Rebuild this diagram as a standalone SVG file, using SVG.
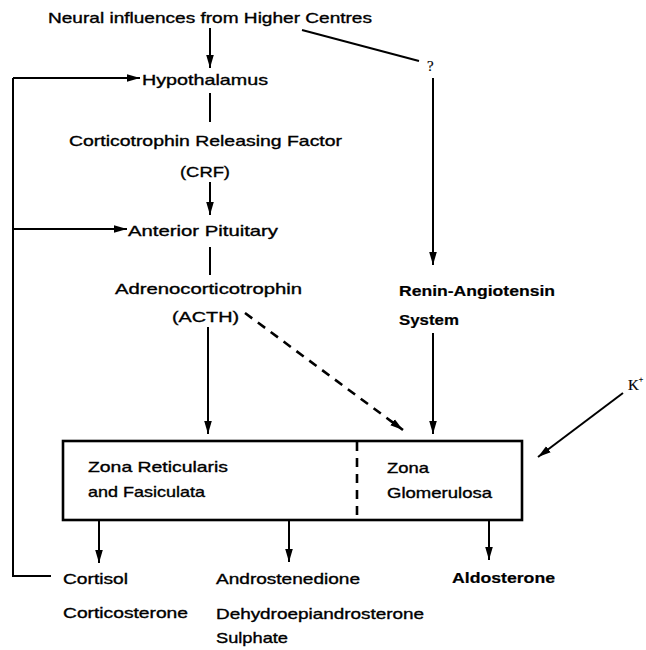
<svg xmlns="http://www.w3.org/2000/svg" width="646" height="650" viewBox="0 0 646 650">
<defs>
<marker id="ah" markerUnits="userSpaceOnUse" markerWidth="14" markerHeight="10" viewBox="0 0 14 10" refX="13" refY="5" orient="auto">
<path d="M0,1.2 L13,5 L0,8.8 Z" fill="#000"/>
</marker>
</defs>
<style>
text{font-family:"Liberation Sans",Arial,sans-serif;font-size:15px;fill:#000;stroke:#000;stroke-width:0.35}
.b{font-weight:bold;stroke-width:0.2}
.serif{font-family:"Liberation Serif","Times New Roman",serif;stroke-width:0.2}
.c{fill:none;stroke:#000;stroke-width:2}
.arr{marker-end:url(#ah)}
.dash{stroke-dasharray:9 7;stroke-width:2.6}
.box{fill:none;stroke:#000;stroke-width:2.6}
</style>
<rect width="646" height="650" fill="#fff"/>
<g id="connectors">
<line class="c arr" x1="210" y1="28" x2="210" y2="68"/>
<line class="c" x1="302" y1="30" x2="419" y2="61" stroke-width="2.4"/>
<line class="c arr" x1="433" y1="78" x2="433" y2="265" stroke-width="2.4"/>
<polyline class="c" points="51,576 13,576 13,78"/>
<line class="c arr" x1="13" y1="78" x2="140" y2="78" stroke-width="2.4"/>
<line class="c" x1="210" y1="93" x2="210" y2="122"/>
<line class="c arr" x1="210" y1="182" x2="210" y2="215"/>
<line class="c arr" x1="13" y1="229" x2="127" y2="229" stroke-width="2.4"/>
<line class="c" x1="210" y1="247" x2="210" y2="275"/>
<line class="c arr" x1="208" y1="327" x2="208" y2="434"/>
<line class="c arr dash" x1="245" y1="313" x2="403" y2="430"/>
<line class="c arr" x1="433" y1="333" x2="433" y2="434"/>
<line class="c arr" x1="623" y1="393" x2="538" y2="457" stroke-width="2.6"/>
<line class="c arr" x1="99" y1="520" x2="99" y2="563"/>
<line class="c arr" x1="289" y1="520" x2="289" y2="562"/>
<line class="c arr" x1="489" y1="520" x2="489" y2="560"/>
</g>
<g id="neural"><text x="48" y="23" textLength="324" lengthAdjust="spacingAndGlyphs">Neural influences from Higher Centres</text></g>
<g id="question"><text class="serif" x="427" y="71" font-size="14">?</text></g>
<g id="hypothalamus"><text x="142" y="85" textLength="126" lengthAdjust="spacingAndGlyphs">Hypothalamus</text></g>
<g id="crf"><text x="69" y="146" textLength="273" lengthAdjust="spacingAndGlyphs">Corticotrophin Releasing Factor</text><text x="180" y="177" textLength="50" lengthAdjust="spacingAndGlyphs">(CRF)</text></g>
<g id="pituitary"><text x="128" y="236" textLength="150" lengthAdjust="spacingAndGlyphs">Anterior Pituitary</text></g>
<g id="acth"><text x="115" y="294" textLength="187" lengthAdjust="spacingAndGlyphs">Adrenocorticotrophin</text><text x="172" y="322" textLength="67" lengthAdjust="spacingAndGlyphs">(ACTH)</text></g>
<g id="renin"><text class="b" x="399" y="296" textLength="156" lengthAdjust="spacingAndGlyphs">Renin-Angiotensin</text><text class="b" x="399" y="325" textLength="60" lengthAdjust="spacingAndGlyphs">System</text></g>
<g id="potassium"><text class="serif" x="628" y="390">K<tspan font-size="8" dy="-8">+</tspan></text></g>
<g id="adrenal">
<rect class="box" x="63" y="441" width="459" height="79"/>
<line class="c dash" x1="357" y1="442" x2="357" y2="519" stroke-dasharray="7 4"/>
<text x="88" y="472" textLength="140" lengthAdjust="spacingAndGlyphs">Zona Reticularis</text>
<text x="88" y="497" textLength="117" lengthAdjust="spacingAndGlyphs">and Fasiculata</text>
<text x="387" y="473" textLength="42" lengthAdjust="spacingAndGlyphs">Zona</text>
<text x="387" y="498" textLength="105" lengthAdjust="spacingAndGlyphs">Glomerulosa</text>
</g>
<g id="cortisol"><text x="63" y="584" textLength="65" lengthAdjust="spacingAndGlyphs">Cortisol</text><text x="63" y="618" textLength="125" lengthAdjust="spacingAndGlyphs">Corticosterone</text></g>
<g id="androgens"><text x="216" y="584" textLength="144" lengthAdjust="spacingAndGlyphs">Androstenedione</text><text x="216" y="619" textLength="208" lengthAdjust="spacingAndGlyphs">Dehydroepiandrosterone</text><text x="216" y="643" textLength="72" lengthAdjust="spacingAndGlyphs">Sulphate</text></g>
<g id="aldosterone"><text class="b" x="452" y="583" textLength="103" lengthAdjust="spacingAndGlyphs">Aldosterone</text></g>
</svg>
